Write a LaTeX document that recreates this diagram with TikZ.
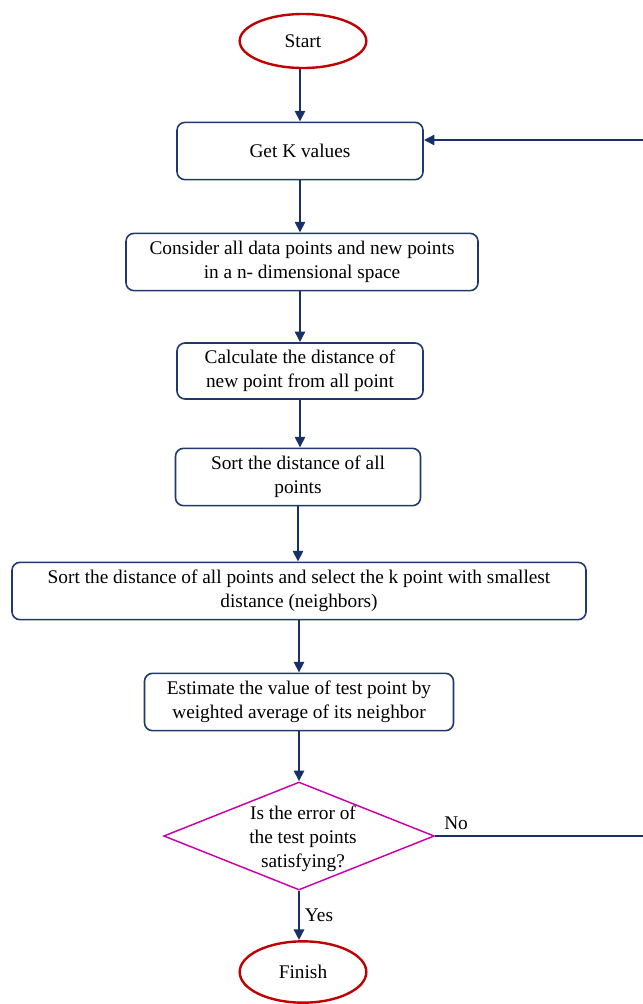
\documentclass[tikz,border=0pt]{standalone}
\usepackage{fontspec}
\setmainfont{Liberation Serif}
\usetikzlibrary{arrows.meta,positioning,shapes.geometric}

\definecolor{navy}{RGB}{23,48,104}
\definecolor{boxblue}{RGB}{31,56,110}
\definecolor{termred}{RGB}{192,0,0}
\definecolor{decmag}{RGB}{204,0,170}

\begin{document}
\begin{tikzpicture}[x=0.75pt,y=-0.75pt,
  every node/.style={font=\fontsize{14.5}{18.2}\selectfont},
  terminal/.style={ellipse,draw=termred,line width=1.8pt,minimum width=95pt,minimum height=40.5pt,inner sep=0pt},
  process/.style={rectangle,rounded corners=6pt,draw=boxblue,line width=1.2pt,align=center,inner sep=0pt,minimum height=43pt},
  decision/.style={diamond,draw=decmag,line width=1.1pt,minimum width=203pt,minimum height=81pt,inner sep=0pt},
  flow/.style={draw=navy,line width=2.2pt,-{Triangle[width=7.5pt,length=8pt]}},
  link/.style={draw=navy,line width=2.2pt}]
\useasboundingbox (0,0) rectangle (643,1004);

\node[terminal] (start) at (303,41) {Start};
\node[process,minimum width=184.5pt] (getk) at (300,151) {Get K values};
\node[process,minimum width=264pt] (consider) at (302,262) {Consider all data points and new points\\in a n- dimensional space};
\node[process,minimum width=184.5pt,minimum height=42pt] (calc) at (300,371) {Calculate the distance of\\new point from all point};
\node[process,minimum width=183.75pt] (sort) at (298,477) {Sort the distance of all\\points};
\node[process,minimum width=430.5pt] (select) at (299,591) {Sort the distance of all points and select the k point with smallest\\distance (neighbors)};
\node[process,minimum width=231.75pt] (estimate) at (299,702) {Estimate the value of test point by\\weighted average of its neighbor};
\node[decision] (check) at (299,836) {};
\node[align=center] (checktext) at (303,839) {Is the error of\\the test points\\satisfying?};
\node[terminal,minimum height=46pt] (finish) at (303,972) {Finish};

\coordinate (noend) at (645,836);
\coordinate (backtop) at (645,140);

\draw[flow] (getk |- start.south) -- (getk);
\draw[flow] (getk) -- (getk |- consider.north);
\draw[flow] (calc |- consider.south) -- (calc);
\draw[flow] (calc) -- (calc |- sort.north);
\draw[flow] (sort) -- (sort |- select.north);
\draw[flow] (select) -- (select |- estimate.north);
\draw[flow] (estimate) -- (check);
\draw[flow] (check) -- (check |- finish.north) node[midway,right] (yes) {Yes};
\draw[link] (check.east) -- (noend) node[pos=0.1,above] (no) {No};
\draw[flow] (noend) -- (backtop) -- (backtop -| getk.east);
\end{tikzpicture}
\end{document}
